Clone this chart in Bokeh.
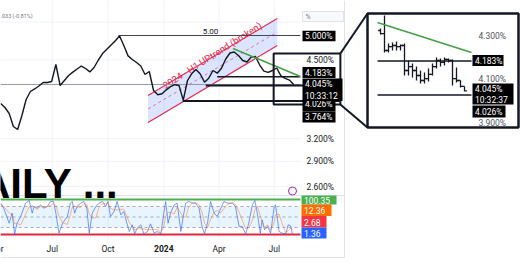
import math
import pandas as pd
from bokeh.plotting import figure
from bokeh.models import Range1d, LinearScale, LogScale
from bokeh.embed import file_html
from bokeh.resources import INLINE
from bokeh.core.properties import value

# ------------------------------------------------------------------ data
price_start = "2023-04-07"            # weekly closes
price_close = [3.725, 3.661, 3.567, 3.372, 3.329, 3.537, 3.790, 3.924, 3.967, 4.018,
               4.080, 4.080, 4.097, 4.410, 4.027, 4.115, 4.205, 4.267, 4.325, 4.381,
               4.334, 4.271, 4.353, 4.497, 4.625, 4.710, 4.798, 4.889, 4.990, 4.788,
               4.578, 4.507, 4.449, 4.381, 4.223, 4.278, 3.941, 3.868, 3.885, 3.952,
               4.006, 4.041, 4.027, 3.780, 4.115, 4.241, 4.316, 4.232, 4.085, 4.156,
               4.297, 4.247, 4.340, 4.516, 4.635, 4.655, 4.585, 4.487, 4.458, 4.555,
               4.565, 4.400, 4.286, 4.263, 4.297, 4.344, 4.199, 4.153, 4.122, 4.045]
last_price = 4.045
last_countdown = "10:33:12"

level_prices = [5.000, 4.183, 4.026, 3.764]
level_from = ["2023-10-18", "2024-03-29", "2024-03-10", "2024-02-01"]
level_to = ["2024-08-13", "2024-08-13", "2024-10-18", "2024-10-18"]
level_caption = "5.00"

channel_dates = ["2023-12-06", "2024-07-06"]
channel_upper = [3.857, 5.382]
channel_mid = [3.638, 5.076]
channel_lower = [3.431, 4.788]
channel_title = "2024 - H1 UPtrend (broken)"

trend_dates = ["2024-04-24", "2024-08-13"]
trend_prices = [4.727, 4.187]

zoom_dates = ["2024-06-30", "2024-10-18"]
zoom_prices = [3.708, 4.625]

price_ticks = [4.5, 3.2, 2.9, 2.6]
price_grid = [5.3, 4.5, 3.2, 2.9, 2.6]
time_ticks = ["2023-04-01", "2023-07-01", "2023-10-01", "2024-01-01", "2024-04-01", "2024-07-01"]
time_labels = ["Apr", "Jul", "Oct", "2024", "Apr", "Jul"]
header_text = ".033 (-0.81%)"
big_title = "DAILY ..."

osc_start = "2023-04-07"
osc_day = [0, 5, 14, 19, 23, 27, 33, 41, 47, 52,
           55, 60, 66, 71, 77, 82, 87, 91, 96, 102,
           110, 115, 118, 122, 126, 132, 137, 142, 146, 151,
           157, 162, 168, 173, 177, 181, 187, 192, 198, 203,
           208, 212, 217, 221, 225, 231, 236, 242, 247, 253,
           258, 264, 269, 272, 276, 280, 286, 291, 297, 301,
           305, 310, 316, 321, 327, 332, 336, 341, 346, 352,
           357, 363, 368, 374, 382, 387, 393, 398, 404, 409,
           415, 419, 423, 428, 431, 435, 440, 445, 451, 453,
           459, 464, 470, 474, 478, 481]
stoch_k = [89.5, 75.2, 32.4, 61.0, 0.5, 32.4, 51.4, 89.5, 97.1, 61.0,
           80.0, 75.2, 84.8, 75.2, 80.0, 94.3, 94.3, 61.0, 3.8, 32.4,
           51.4, 89.5, 94.3, 61.0, 80.0, 89.5, 94.3, 75.2, 3.8, 61.0,
           80.0, 89.5, 94.3, 80.0, 94.3, 51.4, 65.7, 94.3, 56.2, 65.7,
           32.4, 8.6, 27.6, 1.9, 18.1, 27.6, 1.9, 8.6, 30.5, 3.8,
           8.6, 1.9, 61.0, 94.3, 32.4, 61.0, 84.8, 89.5, 8.6, 51.4,
           89.5, 94.3, 89.5, 89.5, 75.2, 22.9, 1.9, 32.4, 94.3, 61.0,
           51.4, 75.2, 94.3, 89.5, 89.5, 80.0, 22.9, 22.9, 1.9, 32.4,
           84.8, 97.1, 61.0, 3.8, 41.9, 13.3, 22.9, 3.8, 80.0, 84.8,
           8.6, 3.8, 1.9, 27.6, 24.8, 1.4]
stoch_d = [85, 80, 62, 56, 31, 31, 28, 58, 79, 82,
           79, 72, 80, 78, 80, 83, 89, 83, 53, 33,
           29, 58, 78, 82, 78, 78, 88, 86, 58, 47,
           48, 77, 88, 88, 89, 75, 70, 70, 72, 72,
           51, 35, 23, 13, 16, 16, 16, 13, 14, 14,
           14, 5, 24, 52, 63, 63, 59, 78, 61, 50,
           50, 78, 91, 91, 85, 63, 33, 19, 43, 63,
           69, 62, 74, 86, 91, 86, 64, 42, 16, 19,
           40, 71, 81, 54, 36, 20, 27, 13, 36, 56,
           58, 32, 5, 11, 18, 12.4]
osc_bands = [80, 50, 20]
osc_top_line = 100.35
osc_bottom_line = 0.0
osc_tags = ["100.35", "12.36", "2.68", "1.36"]

inset_open = [4.323, 4.309, 4.231, 4.249, 4.254, 4.249, 4.254, 4.139, 4.157, 4.139, 4.116,
              4.093, 4.102, 4.121, 4.157, 4.185, 4.176, 4.190, 4.185, 4.102, 4.093, 4.066]
inset_high = [4.332, 4.392, 4.263, 4.268, 4.272, 4.259, 4.263, 4.185, 4.171, 4.157, 4.139,
              4.130, 4.148, 4.171, 4.199, 4.194, 4.199, 4.194, 4.190, 4.153, 4.093, 4.066]
inset_low = [4.305, 4.222, 4.222, 4.231, 4.231, 4.231, 4.116, 4.116, 4.107, 4.093, 4.079,
             4.079, 4.089, 4.116, 4.148, 4.157, 4.162, 4.176, 4.070, 4.084, 4.061, 4.044]
inset_close = [4.309, 4.231, 4.249, 4.254, 4.249, 4.254, 4.139, 4.157, 4.139, 4.116, 4.093,
               4.102, 4.121, 4.157, 4.185, 4.176, 4.190, 4.185, 4.102, 4.093, 4.066, 4.045]
inset_ticks = [4.3, 4.1, 3.9]
inset_levels = [4.183, 4.026]
inset_trend = [4.36, 4.222]
inset_countdown = "10:32:37"

# ------------------------------------------------------------------ layout
W, H = 520, 272
D0 = pd.Timestamp("2023-04-06 17:00")
DAY_PX = 0.6066
P_REF, Y_REF, LOG_PX = 5.0, 35.0, 231.0
PANE_R = 300
OSC0_Y, OSC_PX = 234.0, 0.35
INS_X0, INS_BAR = 380.0, 4.0
INS_P0, INS_Y0, INS_PX = 4.3, 35.0, 217.5

FONT = value("Roboto")
INK = "#131722"


def ms(d):
    return pd.Timestamp(d).value / 1e6


def mx(d):
    return (pd.Timestamp(d) - D0).total_seconds() / 86400 * DAY_PX


def my(v):
    return Y_REF - LOG_PX * math.log(v / P_REF)


def date_at(px):
    return D0 + pd.Timedelta(days=px / DAY_PX)


x_main = Range1d(ms(D0), ms(date_at(W)))
y_main = Range1d(P_REF * math.exp(-(H - Y_REF) / LOG_PX), P_REF * math.exp(Y_REF / LOG_PX))

p = figure(width=W, height=H, x_range=x_main, y_range=y_main,
           output_backend="svg", toolbar_location=None,
           x_axis_location=None, y_axis_location=None,
           min_border=0, min_border_left=0, min_border_right=0,
           min_border_top=0, min_border_bottom=0)
p.y_scale = LogScale()
p.x_scale = LinearScale()
p.extra_x_ranges = {"px": Range1d(0, W),
                    "ins": Range1d((0 - INS_X0) / INS_BAR, (W - INS_X0) / INS_BAR)}
p.extra_y_ranges = {"px": Range1d(H, 0),
                    "osc": Range1d((OSC0_Y - H) / OSC_PX, OSC0_Y / OSC_PX),
                    "ins": Range1d(INS_P0 - (H - INS_Y0) / INS_PX, INS_P0 + INS_Y0 / INS_PX)}
p.extra_x_scales = {"px": LinearScale(), "ins": LinearScale()}
p.extra_y_scales = {"px": LinearScale(), "osc": LinearScale(), "ins": LinearScale()}
p.outline_line_color = None
p.background_fill_color = "white"
p.border_fill_color = "white"
p.xgrid.visible = False
p.ygrid.visible = False

PX = dict(x_range_name="px", y_range_name="px")


def txt(x, y, t, size="8.5px", color=INK, align="left", baseline="middle",
        style="normal", font=FONT, angle=0.0, **kw):
    p.text(x=x, y=y, text=t, text_font=font, text_font_size=size, text_color=color,
           text_align=align, text_baseline=baseline, text_font_style=style,
           angle=angle, **kw)


def tag(x0, x1, y0, y1, lines, bg, fg="white", size="8.5px", ty=None):
    p.quad(left=[x0], right=[x1], top=[y0], bottom=[y1], fill_color=bg,
           line_color=None, **PX)
    h = (y1 - y0) / len(lines)
    for k, t in enumerate(lines):
        yy = ty if ty is not None else y0 + h * (k + 0.5) + 0.3
        txt([x0 + 2.5], [yy], [t], size=size, color=fg, **PX)


# ---------------- grid & frame
grid_x = [ms(d) for d in time_ticks]
p.segment(x0=grid_x, y0=[0] * len(grid_x), x1=grid_x, y1=[240] * len(grid_x),
          y_range_name="px", line_color="#f0f3fa", line_width=1)
p.segment(x0=[0] * len(price_grid), y0=price_grid, x1=[PANE_R] * len(price_grid),
          y1=price_grid, x_range_name="px", line_color="#f0f3fa", line_width=1)
p.segment(x0=[344, 0, 0], y0=[0, 257, 195], x1=[344, 344, 344], y1=[257, 257, 195],
          line_color="#e0e3eb", line_width=1, **PX)

# ---------------- big caption (left part runs off the pane, as in the source)
txt([118], [183], [big_title], size="42px", color="#000000", align="right",
    baseline="alphabetic", style="bold", font=value("Liberation Sans"), **PX)
txt([0], [15], [header_text], size="5.5px", color="#787b86", **PX)

# ---------------- channel
cx = [ms(d) for d in channel_dates]
p.patch(x=[cx[0], cx[1], cx[1], cx[0]],
        y=[channel_upper[0], channel_upper[1], channel_lower[1], channel_lower[0]],
        fill_color="#2962ff", fill_alpha=0.17, line_color=None)
p.line(cx, channel_upper, line_color="#e5294b", line_width=1.2)
p.line(cx, channel_lower, line_color="#e5294b", line_width=1.2)
p.line(cx, channel_mid, line_color="#e5294b", line_alpha=0.6, line_width=1,
       line_dash="3 3")
f = 0.12
tx = cx[0] + f * (cx[1] - cx[0])
ty = channel_upper[0] * (channel_upper[1] / channel_upper[0]) ** f
ang = math.atan2(my(channel_upper[0]) - my(channel_upper[1]),
                 mx(channel_dates[1]) - mx(channel_dates[0]))
txt([tx], [ty], [channel_title], size="9.5px", color="#e5294b",
    baseline="alphabetic", angle=ang + 0.03)

# ---------------- horizontal levels
p.segment(x0=[ms(D0)], y0=[last_price], x1=[ms(date_at(PANE_R))], y1=[last_price],
          line_color="#9598a1", line_width=1)
widths = [1, 1.5, 2, 2]
colors = ["#434651", INK, INK, INK]
for v, a, b, w, c in zip(level_prices, level_from, level_to, widths, colors):
    p.segment(x0=[ms(a)], y0=[v], x1=[ms(b)], y1=[v], line_color=c, line_width=w)
txt([ms(date_at(210))], [level_prices[0]], [level_caption], size="8px",
    align="center", baseline="bottom", y_offset=-2)

# ---------------- price
price_dates = [ms(d) for d in pd.date_range(price_start, periods=len(price_close), freq="7D")]
p.line(price_dates, price_close, line_color=INK, line_width=1.4)

# ---------------- trend line
p.line([ms(d) for d in trend_dates], trend_prices, line_color="#43a047", line_width=1.6)

# ---------------- zoom rectangle and connectors
zx = [ms(d) for d in zoom_dates]
p.quad(left=[zx[0]], right=[zx[1]], top=[zoom_prices[1]], bottom=[zoom_prices[0]],
       fill_color=None, line_color=INK, line_width=2)
rx = mx(zoom_dates[1])
p.segment(x0=[rx, rx], y0=[my(zoom_prices[1]), my(zoom_prices[0])],
          x1=[367, 367], y1=[13, 127], line_color=INK, line_width=2, **PX)

# ---------------- price scale
p.quad(left=[302], right=[343], top=[11], bottom=[21], fill_color="#f8f9fd",
       line_color="#e0e3eb", line_width=1, **PX)
txt([305], [16], ["%"], size="7px", color="#787b86", **PX)
txt([306] * len(price_ticks), price_ticks, ["%.3f%%" % v for v in price_ticks],
    x_range_name="px")
lab = ["%.3f%%" % v for v in level_prices]
tag(302, 335, 30.3, 40.8, [lab[0]], "#000000")
tag(302, 335, 66.5, 77.6, [lab[1]], "#000000")
tag(302, 335, 99.0, 111.0, [lab[2]], "#000000", ty=103.5)
tag(302, 335, 111.0, 122.0, [lab[3]], "#000000")
tag(302, 342, 78.0, 100.5, ["%.3f%%" % last_price, last_countdown], "#000000")

# ---------------- oscillator
OSC = dict(x_range_name="px", y_range_name="osc")
p.quad(left=[0], right=[PANE_R], top=[osc_bands[0]], bottom=[osc_bands[-1]],
       fill_color="#2196f3", fill_alpha=0.1, line_color=None, **OSC)
p.segment(x0=[0] * 3, y0=osc_bands, x1=[PANE_R] * 3, y1=osc_bands,
          line_color="#9598a1", line_width=0.8, line_dash="3 3", **OSC)
p.segment(x0=[0], y0=[osc_top_line], x1=[PANE_R], y1=[osc_top_line],
          line_color="#4caf50", line_width=2, **OSC)
p.segment(x0=[0], y0=[osc_bottom_line], x1=[PANE_R], y1=[osc_bottom_line],
          line_color="#e0283f", line_width=2, **OSC)
osc_dates = [ms(pd.Timestamp(osc_start) + pd.Timedelta(days=d)) for d in osc_day]
p.line(osc_dates, stoch_k, line_color="#2962ff", line_width=0.8, line_alpha=0.8,
       y_range_name="osc")
p.line(osc_dates, stoch_d, line_color="#ff6d00", line_width=0.8, line_alpha=0.6,
       y_range_name="osc")
tag(301, 336, 195.0, 204.0, [osc_tags[0]], "#4caf50")
tag(301, 331, 204.0, 215.5, [osc_tags[1]], "#ff6d00")
tag(301, 326, 215.5, 227.0, [osc_tags[2]], "#f23645")
tag(301, 326, 227.0, 238.0, [osc_tags[3]], "#2962ff")
p.scatter(x=[292], y=[190.5], marker="circle", size=8, line_color="#9c27b0",
          fill_color="white", line_width=1, **PX)

# ---------------- time labels
norm = [i for i, t in enumerate(time_labels) if not t.isdigit()]
bold = [i for i, t in enumerate(time_labels) if t.isdigit()]
txt([grid_x[i] for i in norm], [248] * len(norm), [time_labels[i] for i in norm],
    align="center", y_range_name="px")
txt([grid_x[i] for i in bold], [248] * len(bold), [time_labels[i] for i in bold],
    align="center", style="bold", y_range_name="px")

# ---------------- inset
INS = dict(x_range_name="ins", y_range_name="ins")
p.quad(left=[367], right=[518], top=[13], bottom=[127], fill_color="white",
       line_color=INK, line_width=2.5, **PX)
idx = list(range(len(inset_open)))
p.segment(x0=idx, y0=inset_low, x1=idx, y1=inset_high, line_color=INK,
          line_width=1.3, **INS)
p.segment(x0=[i - 0.6 for i in idx], y0=inset_open, x1=idx, y1=inset_open,
          line_color=INK, line_width=1.3, **INS)
p.segment(x0=idx, y0=inset_close, x1=[i + 0.6 for i in idx], y1=inset_close,
          line_color=INK, line_width=1.3, **INS)
x_a, x_b = -0.75, len(idx) + 0.75
p.segment(x0=[x_a] * 2, y0=inset_levels, x1=[x_b] * 2, y1=inset_levels,
          line_color=INK, line_width=1.5, **INS)
p.line([x_a, x_b], inset_trend, line_color="#43a047", line_width=1.6, **INS)
txt([x_b + 1.75] * len(inset_ticks), inset_ticks, ["%.3f%%" % v for v in inset_ticks],
    color="#50535e", **INS)
tag(472, 503, 54.5, 65.5, ["%.3f%%" % inset_levels[0]], "#000000")
tag(472, 505, 105.0, 117.0, ["%.3f%%" % inset_levels[1]], "#000000")
tag(472, 513, 83.0, 104.0, ["%.3f%%" % last_price, inset_countdown], "#000000")

open("out.html", "w").write(file_html(p, INLINE))
